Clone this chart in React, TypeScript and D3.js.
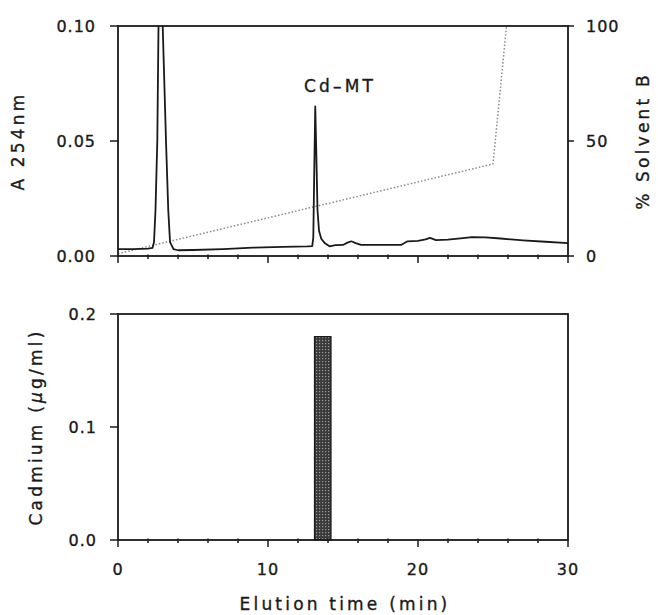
import * as React from 'react';
import * as d3 from 'd3';

// A254 trace (min, absorbance)
const traceTime = [0, 1, 2, 2.3, 2.4, 2.5, 2.62, 2.7, 2.75, 2.9, 2.98, 3.2, 3.35, 3.47, 3.7, 4.0, 5, 7, 9, 11, 12.6, 12.95, 13.02, 13.08, 13.15, 13.22, 13.3, 13.4, 13.55, 13.8, 14.1, 14.5, 15.0, 15.3, 15.55, 15.85, 16.2, 17, 18, 18.9, 19.3, 20.0, 20.5, 20.8, 21.2, 22, 23, 23.6, 24.5, 25.5, 27, 28.5, 30];
const traceAbs = [0.003, 0.003, 0.0032, 0.0035, 0.006, 0.02, 0.05, 0.1, 0.12, 0.12, 0.1, 0.05, 0.02, 0.006, 0.003, 0.0025, 0.0026, 0.003, 0.0036, 0.004, 0.0042, 0.0043, 0.008, 0.035, 0.065, 0.045, 0.02, 0.011, 0.0075, 0.0055, 0.0042, 0.0047, 0.0048, 0.0058, 0.0064, 0.0056, 0.0048, 0.0048, 0.0048, 0.0049, 0.0064, 0.0066, 0.0072, 0.0079, 0.0069, 0.0071, 0.0078, 0.0082, 0.0081, 0.0076, 0.0068, 0.0062, 0.0056];

// % solvent B gradient
const gradientTime = [0, 25, 25.9];
const gradientB = [1, 40, 100];

// cadmium fractions
const fractionStart = [13.1];
const fractionEnd = [14.2];
const cadmium = [0.18];

const xTicksMajor = [0, 10, 20, 30];
const xTicksMinor = [2, 4, 6, 8, 12, 14, 16, 18, 22, 24, 26, 28];
const absTicks = [0, 0.05, 0.1];
const solventTicks = [0, 50, 100];
const cdTicks = [0, 0.1, 0.2];

const font = '"DejaVu Sans", sans-serif';
const ink = '#1a1a1a';

export default function App() {
  const left = 118, right = 568;
  const topY0 = 26, topY1 = 256;
  const botY0 = 314, botY1 = 540;

  const x = d3.scaleLinear().domain([0, 30]).range([left, right]);
  const yAbs = d3.scaleLinear().domain([0, 0.1]).range([topY1, topY0]);
  const yB = d3.scaleLinear().domain([0, 100]).range([topY1, topY0]);
  const yCd = d3.scaleLinear().domain([0, 0.2]).range([botY1, botY0]);

  const traceLine = d3.line<number>()
    .x((d, i) => x(traceTime[i]))
    .y(d => yAbs(d));
  const gradLine = d3.line<number>()
    .x((d, i) => x(gradientTime[i]))
    .y(d => yB(d));

  // a thin stroke on the text gives the heavier plotter look
  const tickLabel = { fontFamily: font, fontSize: 16, fill: ink, stroke: ink, strokeWidth: 0.35, letterSpacing: 1 };
  const title = { fontFamily: font, fontSize: 17, fill: ink, stroke: ink, strokeWidth: 0.35, letterSpacing: 3.2 };

  const xAxis = (y0: number) => (
    <g stroke={ink} strokeWidth={1.5}>
      {xTicksMinor.map(t => <line key={'m' + t} x1={x(t)} x2={x(t)} y1={y0 - 1.5} y2={y0 + 3} />)}
      {xTicksMajor.map(t => <line key={'M' + t} x1={x(t)} x2={x(t)} y1={y0} y2={y0 + 7} />)}
    </g>
  );

  return (
    <svg width={658} height={615} style={{ position: 'absolute', left: 0, top: 0, background: '#fff' }}>
      <defs>
        <clipPath id="topClip">
          <rect x={left} y={topY0} width={right - left} height={topY1 - topY0} />
        </clipPath>
        <pattern id="hatch" width={3} height={3} patternUnits="userSpaceOnUse">
          <rect width={3} height={3} fill="#3a3a3a" />
          <rect x={1} y={1} width={1.2} height={1.2} fill="#9a9a9a" />
        </pattern>
      </defs>

      {/* top panel */}
      <path d={gradLine(gradientB)!} fill="none" stroke="#888" strokeWidth={1.5} strokeDasharray="1.5 2" />
      <path d={traceLine(traceAbs)!} fill="none" stroke={ink} strokeWidth={1.8} clipPath="url(#topClip)" strokeLinejoin="round" />
      <rect x={left} y={topY0} width={right - left} height={topY1 - topY0} fill="none" stroke={ink} strokeWidth={1.8} />
      {xAxis(topY1)}
      <g stroke={ink} strokeWidth={1.5}>
        {absTicks.map(t => <line key={t} x1={left - 8} x2={left} y1={yAbs(t)} y2={yAbs(t)} />)}
        {solventTicks.map(t => <line key={t} x1={right} x2={right + 6} y1={yB(t)} y2={yB(t)} />)}
      </g>
      {absTicks.map(t => (
        <text key={t} x={96} y={yAbs(t)} dy="0.36em" textAnchor="end" {...tickLabel}>{d3.format('.2f')(t)}</text>
      ))}
      {solventTicks.map(t => (
        <text key={t} x={586} y={yB(t)} dy="0.36em" textAnchor="start" {...tickLabel}>{t}</text>
      ))}
      <text x={340} y={92} textAnchor="middle" {...title}>Cd–MT</text>
      <text transform={`translate(24,141) rotate(-90)`} textAnchor="middle" {...title}>A 254nm</text>
      <text transform={`translate(649,141) rotate(-90)`} textAnchor="middle" {...title}>% Solvent B</text>

      {/* bottom panel */}
      {cadmium.map((c, i) => (
        <rect key={i} x={x(fractionStart[i])} y={yCd(c)} width={x(fractionEnd[i]) - x(fractionStart[i])}
          height={yCd(0) - yCd(c)} fill="url(#hatch)" stroke={ink} strokeWidth={1.2} />
      ))}
      <rect x={left} y={botY0} width={right - left} height={botY1 - botY0} fill="none" stroke={ink} strokeWidth={1.8} />
      {xAxis(botY1)}
      <g stroke={ink} strokeWidth={1.5}>
        {cdTicks.map(t => <line key={t} x1={left - 8} x2={left} y1={yCd(t)} y2={yCd(t)} />)}
      </g>
      {cdTicks.map(t => (
        <text key={t} x={97} y={yCd(t)} dy="0.36em" textAnchor="end" {...tickLabel}>{d3.format('.1f')(t)}</text>
      ))}
      {xTicksMajor.map(t => (
        <text key={t} x={x(t)} y={575} textAnchor="middle" {...tickLabel}>{t}</text>
      ))}
      <text transform={`translate(42,427) rotate(-90)`} textAnchor="middle" {...title}>
        Cadmium (<tspan fontStyle="italic">μ</tspan>g/ml)
      </text>
      <text x={345} y={610} textAnchor="middle" {...title}>Elution time (min)</text>
    </svg>
  );
}
